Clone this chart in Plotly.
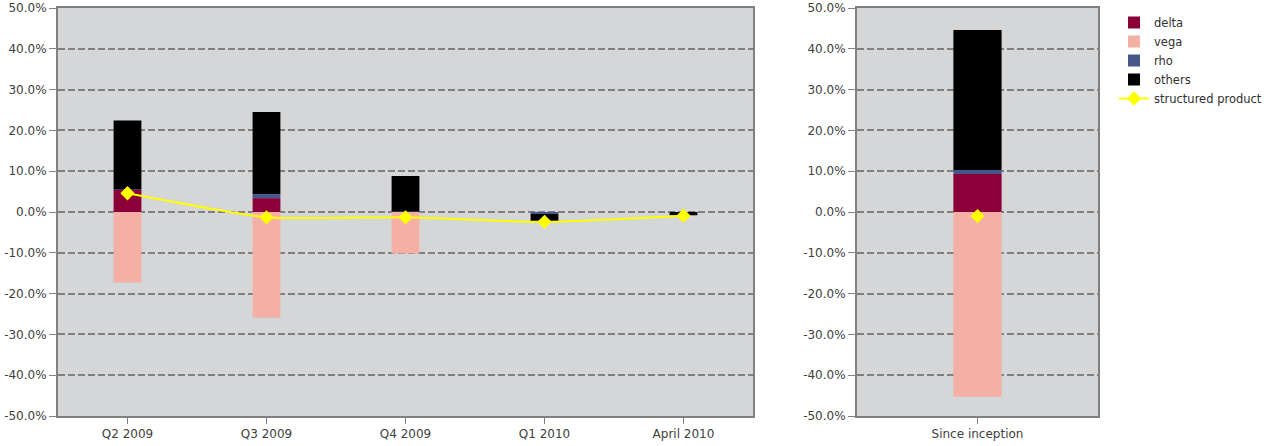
import plotly.graph_objects as go

categories = ["Q2 2009", "Q3 2009", "Q4 2009", "Q1 2010", "April 2010"]
delta = [5.4, 3.4, 0.0, 0.0, 0.0]
vega = [-17.3, -25.9, -10.2, -0.1, 0.0]
rho = [0.2, 1.0, 0.1, -0.4, 0.0]
others = [16.8, 20.1, 8.7, -1.9, -0.8]
structured = [4.6, -1.3, -1.3, -2.4, -0.9]

cat2 = ["Since inception"]
delta2 = [9.3]
vega2 = [-45.3]
rho2 = [1.0]
others2 = [34.3]
structured2 = [-1.0]

y_ticks = [-50, -40, -30, -20, -10, 0, 10, 20, 30, 40, 50]
y_labels = [f"{v:.1f}%" for v in y_ticks]

colors = {"delta": "#8B0038", "vega": "#F4B0A4", "rho": "#46558A", "others": "#000000"}
FONT = "DejaVu Sans"

W, H = 1271, 446

fig = go.Figure()
series = [("delta", delta, delta2), ("vega", vega, vega2), ("rho", rho, rho2), ("others", others, others2)]
for name, v1, v2 in series:
    fig.add_trace(go.Bar(x=categories, y=v1, name=name, marker_color=colors[name],
                         marker_line_width=0, width=0.2, xaxis="x", yaxis="y", legendgroup=name))
    fig.add_trace(go.Bar(x=cat2, y=v2, name=name, marker_color=colors[name], showlegend=False,
                         marker_line_width=0, width=0.2, xaxis="x2", yaxis="y2", legendgroup=name))

fig.add_trace(go.Scatter(x=categories, y=structured, name="structured product", mode="lines+markers",
                         line=dict(color="#FFFF00", width=2, shape="spline", smoothing=0.5),
                         marker=dict(symbol="diamond", size=11, color="#FFFF00"),
                         xaxis="x", yaxis="y"))
fig.add_trace(go.Scatter(x=cat2, y=structured2, name="structured product", mode="markers",
                         marker=dict(symbol="diamond", size=11, color="#FFFF00"), showlegend=False,
                         xaxis="x2", yaxis="y2"))

yaxis_common = dict(range=[-50, 50], tickvals=y_ticks, ticktext=y_labels, showgrid=True,
                    gridcolor="#808080", griddash="7px,3px", gridwidth=1.5, zeroline=False,
                    showline=True, linecolor="#808080", linewidth=2, mirror=True,
                    ticks="outside", ticklen=7, tickcolor="#808080",
                    tickfont=dict(family=FONT, size=12, color="#404040"))
xaxis_common = dict(showline=True, linecolor="#808080", linewidth=2, mirror=True,
                    ticks="outside", ticklen=6, tickcolor="#808080", showgrid=False,
                    tickfont=dict(family=FONT, size=12, color="#404040"))

fig.update_layout(
    barmode="relative",
    width=W, height=H,
    margin=dict(l=0, r=0, t=8, b=30, autoexpand=False),
    paper_bgcolor="white",
    plot_bgcolor="#D5D6D8",
    font=dict(family=FONT, size=12, color="#303030"),
    xaxis=dict(domain=[58 / W, 753 / W], anchor="y", **xaxis_common),
    yaxis=dict(anchor="x", **yaxis_common),
    xaxis2=dict(domain=[857 / W, 1098 / W], anchor="y2", range=[-0.5, 0.5], **xaxis_common),
    yaxis2=dict(anchor="x2", **yaxis_common),
    legend=dict(x=1114 / W, y=1.0, xanchor="left", yanchor="top", traceorder="normal",
                font=dict(family=FONT, size=11.5, color="#303030"), itemwidth=30,
                bgcolor="rgba(0,0,0,0)", tracegroupgap=0),
    showlegend=True,
)

fig.write_html("out.html", config={"displayModeBar": False},
               post_script="document.body.style.margin='0';document.body.style.overflow='hidden';")
